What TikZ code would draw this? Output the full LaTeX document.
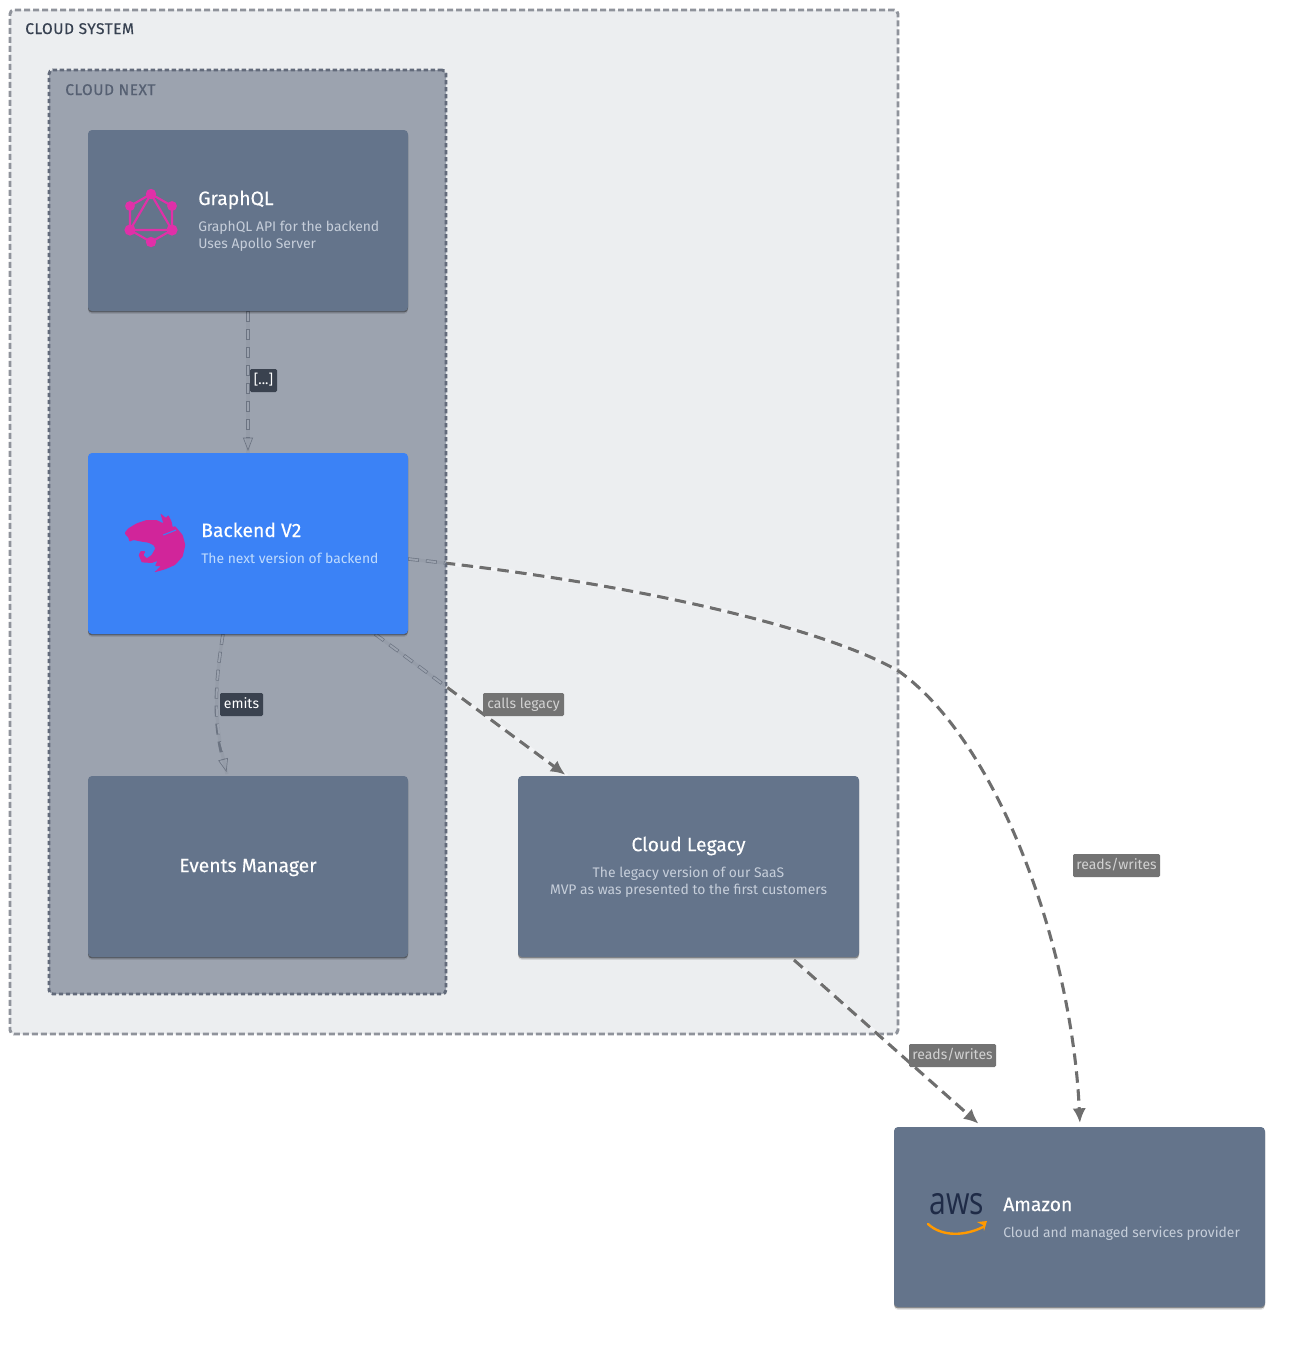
\documentclass[tikz,border=0pt]{standalone}
\usepackage{fontspec}
\usepackage{graphicx}
\setmainfont{Fira Sans}
\newfontfamily\awsfont{Open Sans}
\newfontfamily\medfont[FakeBold=0.25]{Fira Sans}
\newfontfamily\grpfont[FakeBold=0.5,LetterSpace=3.5]{Fira Sans}
\usetikzlibrary{arrows.meta,calc,shadows}
\pgfdeclarelayer{lsys}\pgfdeclarelayer{ledge}\pgfdeclarelayer{lnext}\pgfdeclarelayer{lhollow}\pgfdeclarelayer{ltop}
\pgfsetlayers{lsys,ledge,lnext,lhollow,main,ltop}
\definecolor{slatebox}{HTML}{64748B}
\definecolor{bluebox}{HTML}{3B82F6}
\definecolor{sysfill}{HTML}{ECEEF0}
\definecolor{nextfill}{HTML}{9CA3AF}
\definecolor{sysline}{HTML}{8F939B}
\definecolor{nextline}{HTML}{626A7A}
\definecolor{pinkq}{HTML}{E030A8}
\definecolor{pinkn}{HTML}{D1259A}
\definecolor{tagdark}{HTML}{3A424F}
\definecolor{tagmid}{HTML}{737373}
\definecolor{tagtext}{HTML}{D2D2D2}
\definecolor{edgedark}{HTML}{6E6E6E}
\definecolor{hollowline}{HTML}{6C7482}
\definecolor{haloline}{HTML}{969DA9}
\definecolor{awsnavy}{HTML}{1F2B47}
\definecolor{awsorange}{HTML}{FF9900}
\definecolor{desctext}{HTML}{C6CEDA}
\definecolor{descblue}{HTML}{BFDBFE}
\definecolor{systext}{HTML}{374151}
\definecolor{nexttext}{HTML}{566072}
\tikzset{
 x=0.75pt,y=-0.75pt,
 box/.style={anchor=north west,rounded corners=3pt,fill=#1,inner sep=0pt,outer sep=0pt,
   general shadow={shadow xshift=0pt,shadow yshift=-2.2pt,fill=black,opacity=.10},
   general shadow={shadow xshift=0pt,shadow yshift=-1.1pt,fill=black,opacity=.38}},
 title/.style={text=white,font=\medfont\fontsize{14.5pt}{16pt}\selectfont,inner sep=0pt},
 desc/.style={text=#1,font=\fontsize{10.42pt}{12.75pt}\selectfont,inner sep=0pt},
 sysbox/.style={anchor=north west,rounded corners=3pt,inner sep=0pt,outer sep=0pt,fill=sysfill,draw=sysline,line width=2.2pt,dash pattern=on 4.5pt off 2.25pt},
 nextbox/.style={anchor=north west,rounded corners=3pt,inner sep=0pt,outer sep=0pt,fill=nextfill,draw=nextline,line width=2.2pt,dash pattern=on 3.2pt off 2.05pt},
 grouplabel/.style={anchor=base west,inner sep=0pt,font=\grpfont\fontsize{11.6pt}{12pt}\selectfont,text=#1},
 tag/.style={inner sep=0pt,rounded corners=1pt,font=\fontsize{10.5pt}{12pt}\selectfont,text height=8pt,text depth=2.2pt,align=center},
 darktag/.style={tag,fill=#1,text=white},
 greytag/.style={tag,fill=#1,text=tagtext},
 halo/.style={line width=3pt,white,opacity=.4},
 soliddash/.style={line width=2.3pt,draw=edgedark,dash pattern=on 8.6pt off 4.9pt},
 hollowout/.style={line width=2.5pt,draw=hollowline,dash pattern=on 8.2pt off 5.3pt},
 hollowin/.style={line width=1.5pt,draw=nextfill,dash pattern=on 7.2pt off 6.3pt,dash phase=13pt},
 hollowhalo/.style={line width=2.4pt,draw=haloline},
 solidtip/.style={-{Latex[length=11pt,width=10pt]},shorten >=1.5pt},
 hollowtip/.style={-{Triangle[open,length=10pt,width=7.5pt,line width=.5pt]},shorten >=1.5pt},
}
\begin{document}
\begin{tikzpicture}
\useasboundingbox (0,0) rectangle (1306,1347);

% containers
\begin{pgfonlayer}{lsys}
\fill[white] (0,0) rectangle (1306,1347);
\node[sysbox,minimum width=666pt,minimum height=768pt] (sys) at (10,10) {};
\end{pgfonlayer}
\begin{pgfonlayer}{lnext}
\node[nextbox,minimum width=297.75pt,minimum height=693pt] (nxt) at (49,70) {};
\end{pgfonlayer}
\node[grouplabel=systext] (systitle) at (25,34) {CLOUD SYSTEM};
\node[grouplabel=nexttext] (nxttitle) at (65,95) {CLOUD NEXT};

% boxes
\node[box=slatebox,minimum width=240pt,minimum height=135.75pt] (gq) at (88,130) {};
\node[box=bluebox,minimum width=240pt,minimum height=135.75pt] (be) at (88,453) {};
\node[box=slatebox,minimum width=240pt,minimum height=135.75pt] (ev) at (88,776) {};
\node[box=slatebox,minimum width=255.75pt,minimum height=135.75pt] (leg) at (518,776) {};
\node[box=slatebox,minimum width=278.25pt,minimum height=135pt] (aws) at (894,1127) {};

% texts
\node[title,anchor=base west] (gqt) at (198,205) {GraphQL};
\node[desc=desctext,anchor=north west,align=left] (gqd) at (198,221) {GraphQL API for the backend\\Uses Apollo Server};
\node[title,anchor=base west] (bet) at (201,537) {Backend V2};
\node[desc=descblue,anchor=base west] (bed) at (201,563) {The next version of backend};
\node[title] (evt) at (248,867.5) {Events Manager};
\node[title] (legt) at (688.5,846) {Cloud Legacy};
\node[desc=desctext,align=center,anchor=north] (legd) at (688.5,866) {The legacy version of our SaaS\\MVP as was presented to the first customers};
\node[title,anchor=base west] (awst) at (1003,1211) {Amazon};
\node[desc=desctext,anchor=base west] (awsd) at (1003,1237) {Cloud and managed services provider};

% connector end points
\coordinate (beA) at ($(be.south east)+(-33,0)$);
\coordinate (legA) at ($(leg.north west)+(49,0)$);
\coordinate (beB) at ($(be.south west)+(135,0)$);
\coordinate (evA) at ($(ev.north west)+(139,-2)$);
\coordinate (beC) at ($(be.south east)+(0,-75)$);
\coordinate (awsA) at ($(aws.north west)+(186,-2)$);
\coordinate (legB) at ($(leg.south east)+(-65,3)$);
\coordinate (awsB) at ($(aws.north west)+(86,-2)$);

% connectors in the open
\begin{pgfonlayer}{ledge}
\draw[halo] (beA) -- (legA);
\draw[halo] (beC) .. controls (640,583) and (830,630) .. (900,672) .. controls (1000,745) and (1072,950) .. (awsA);
\draw[halo] (legB) -- (awsB);
\draw[soliddash,solidtip] (beA) -- (legA);
\draw[soliddash,solidtip] (beC) .. controls (640,583) and (830,630) .. (900,672) .. controls (1000,745) and (1072,950) .. (awsA);
\draw[soliddash,solidtip] (legB) -- (awsB);
\end{pgfonlayer}

% the same connectors under the translucent group
\begin{pgfonlayer}{lhollow}
\begin{scope}
\clip (50,71) rectangle (445,993);
\draw[hollowhalo] (gq.south) -- (be.north);
\draw[hollowhalo] (beB) .. controls (214,690) and (214,725) .. (evA);
\draw[hollowhalo] (beA) -- (legA);
\draw[hollowhalo] (beC) .. controls (640,583) and (830,630) .. (900,672);
\draw[hollowout,hollowtip] (gq.south) -- (be.north);
\draw[hollowout,hollowtip] (beB) .. controls (214,690) and (214,725) .. (evA);
\draw[hollowout] (beA) -- (legA);
\draw[hollowout] (beC) .. controls (640,583) and (830,630) .. (900,672);
\draw[hollowin] (gq.south) -- ($(be.north)+(0,-18)$);
\draw[hollowin] (beB) .. controls (214,690) and (214,725) .. ($(evA)+(-1,-16)$);
\draw[hollowin] (beA) -- (legA);
\draw[hollowin] (beC) .. controls (640,583) and (830,630) .. (900,672);
\end{scope}
\end{pgfonlayer}

% tags
\begin{pgfonlayer}{ltop}
\node[darktag=tagdark,minimum width=20.25pt,minimum height=17.25pt] (t1) at (263.5,380.5) {[...]};
\node[darktag=tagdark,minimum width=32.25pt,minimum height=17.25pt] (t2) at (241.5,704.5) {emits};
\node[greytag=tagmid,minimum width=60.75pt,minimum height=17.25pt] (t3) at (523.5,704.5) {calls legacy};
\node[greytag=tagmid,minimum width=65.25pt,minimum height=17.25pt] (t4) at (1116.5,865.5) {reads/writes};
\node[greytag=tagmid,minimum width=65.25pt,minimum height=17.25pt] (t5) at (952.5,1055.5) {reads/writes};
\end{pgfonlayer}

% GraphQL logo
\begin{scope}[pinkq]
\draw[line width=1.6pt,line join=round] (151,194) -- (172,206) -- (172,230) -- (151,242) -- (130,230) -- (130,206) -- cycle;
\draw[line width=1.6pt,line join=round] (151,194) -- (172,230) -- (130,230) -- cycle;
\fill (151,194) circle[radius=3.9pt];
\fill (172,206) circle[radius=3.7pt];
\fill (172,230) circle[radius=4.2pt];
\fill (151,242) circle[radius=3.9pt];
\fill (130,230) circle[radius=4.2pt];
\fill (130,206) circle[radius=3.7pt];
\end{scope}

% NestJS logo
\begin{scope}[shift={(100,490)},x=0.25pt,y=-0.25pt]
\fill[pinkn,rounded corners=.6pt]
 (75,127) -- (85,115) -- (110,100) -- (140,90) -- (170,90) -- (190,100) -- (181,70) -- (198,84) -- (205,75) -- (215,95) -- (218,112) -- (225,108)
 -- (248,135) -- (256,165) -- (248,200) -- (225,225) -- (195,238) -- (163,247) -- (183,228) -- (165,228) -- (172,213) -- (155,219) -- (125,217)
 -- (116,195) -- (122,183) -- (137,184) -- (130,195) -- (140,205) -- (155,195) -- (166,175) -- (160,165) -- (145,158) -- (125,155) -- (100,150) -- (88,155) -- (85,142) -- (75,132) -- cycle;
\draw[bluebox,line width=.8pt] (190,135) -- (228,120);
\end{scope}

% AWS logo
\node[inner sep=0pt,text=awsnavy,font=\awsfont\fontsize{29pt}{29pt}\selectfont] (awslogo) at (957,1204) {\scalebox{.78}[1]{aws}};
\draw[line width=1.8pt,draw=awsorange,line cap=round] (928,1224) .. controls (942,1237) and (965,1236) .. (983,1227);
\fill[awsorange] (977,1222) -- (987,1221) -- (984,1231) -- (983,1225) -- cycle;
\end{tikzpicture}
\end{document}
